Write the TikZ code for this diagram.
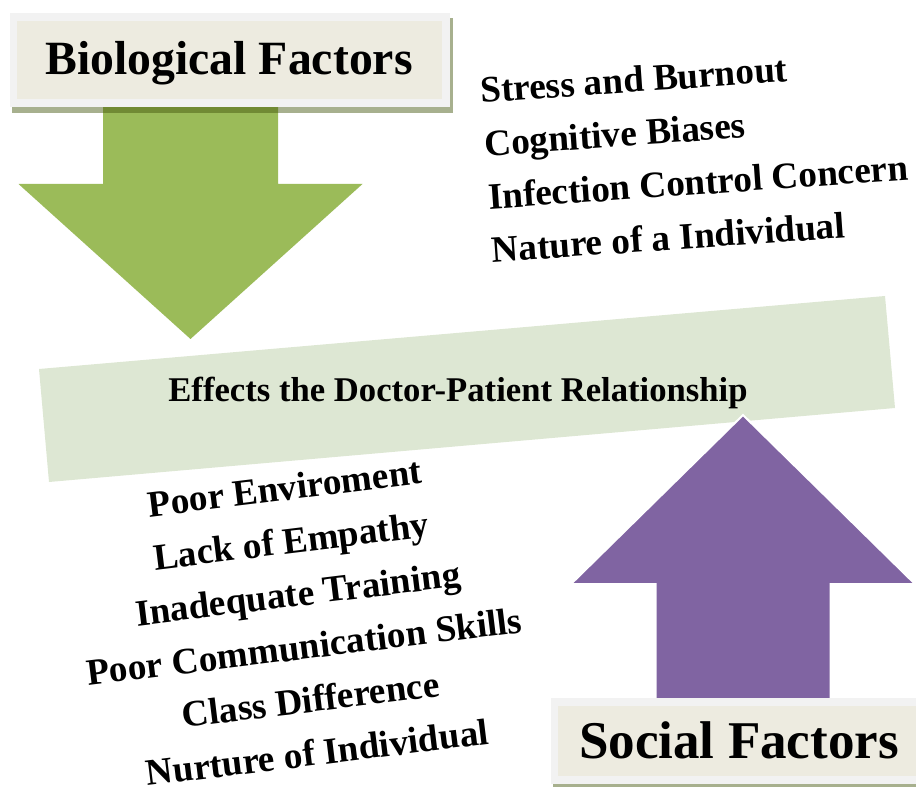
\documentclass[tikz,border=0pt]{standalone}
\usepackage{fontspec}
\setmainfont{Liberation Serif}
\usepackage{xcolor}
\definecolor{biogreen}{HTML}{9BBB59}
\definecolor{socpurple}{HTML}{8064A2}
\definecolor{bandgreen}{HTML}{DDE7D3}
\definecolor{framegray}{HTML}{F2F2F2}
\definecolor{labelfill}{HTML}{EDEBE0}
\definecolor{shadowolive}{RGB}{64,82,9}
\newcommand{\headhalf}{172}
\newcommand{\shafthalf}{87.5}
\newcommand{\listfont}{\fontsize{27.9}{40}\selectfont\bfseries}

\begin{document}
\begin{tikzpicture}[x=0.75pt, y=-0.75pt]
        \useasboundingbox (0,0) rectangle (916,787);
        \clip (0,0) rectangle (916,787);

        \coordinate (bioTip) at (190.5, 339);
        \coordinate (socTip) at (743, 415);

        % tilted band
        \fill[bandgreen] (39,369) -- (885,296) -- (895,408) -- (49,482) -- cycle;

        % green arrow, pointing down
        \fill[biogreen] ([xshift=-\shafthalf*0.75pt]bioTip |- 0,100)
            -- ([xshift=-\shafthalf*0.75pt]bioTip |- 0,184)
            -- ([xshift=-\headhalf*0.75pt]bioTip |- 0,184)
            -- (bioTip)
            -- ([xshift=\headhalf*0.75pt]bioTip |- 0,184)
            -- ([xshift=\shafthalf*0.75pt]bioTip |- 0,184)
            -- ([xshift=\shafthalf*0.75pt]bioTip |- 0,100) -- cycle;

        % purple arrow, pointing up
        \filldraw[socpurple, draw=white, line width=1.5pt]
            ([xshift=-\shafthalf*0.75pt]socTip |- 0,702)
            -- ([xshift=-\shafthalf*0.75pt]socTip |- 0,584)
            -- ([xshift=-\headhalf*0.75pt]socTip |- 0,584)
            -- (socTip)
            -- ([xshift=\headhalf*0.75pt]socTip |- 0,584)
            -- ([xshift=\shafthalf*0.75pt]socTip |- 0,584)
            -- ([xshift=\shafthalf*0.75pt]socTip |- 0,702) -- cycle;

        % label boxes
        \fill[shadowolive, opacity=0.46] (12,18) rectangle (453,113);
        \fill[framegray] (10,13) rectangle (450,107);
        \fill[labelfill] (17,21) rectangle (442,99);

        \fill[shadowolive, opacity=0.46] (553,703) rectangle (933,787);
        \fill[framegray] (551,698) rectangle (930,784);
        \fill[labelfill] (558,706) rectangle (925,776);

        % texts
        \node[anchor=base, inner sep=0, font=\fontsize{35.8}{40}\selectfont\bfseries]
            (bio) at (229,75) {Biological Factors};
        \node[anchor=base, inner sep=0, font=\fontsize{39.8}{44}\selectfont\bfseries]
            (soc) at (739,758) {Social Factors};
        \node[anchor=base, inner sep=0, font=\fontsize{26}{30}\selectfont\bfseries]
            (effects) at (458,402) {Effects the Doctor-Patient Relationship};

        \node[anchor=west, inner sep=0, rotate=4, align=left, font=\listfont]
            (bioList) at (486,170) {Stress and Burnout\\Cognitive Biases\\
            Infection Control Concern\\Nature of a Individual};
        \node[inner sep=0, rotate=7, align=center, font=\listfont]
            (socList) at (301,620) {Poor Enviroment\\Lack of Empathy\\Inadequate Training\\
            Poor Communication Skills\\Class Difference\\Nurture of Individual};
\end{tikzpicture}
\end{document}
